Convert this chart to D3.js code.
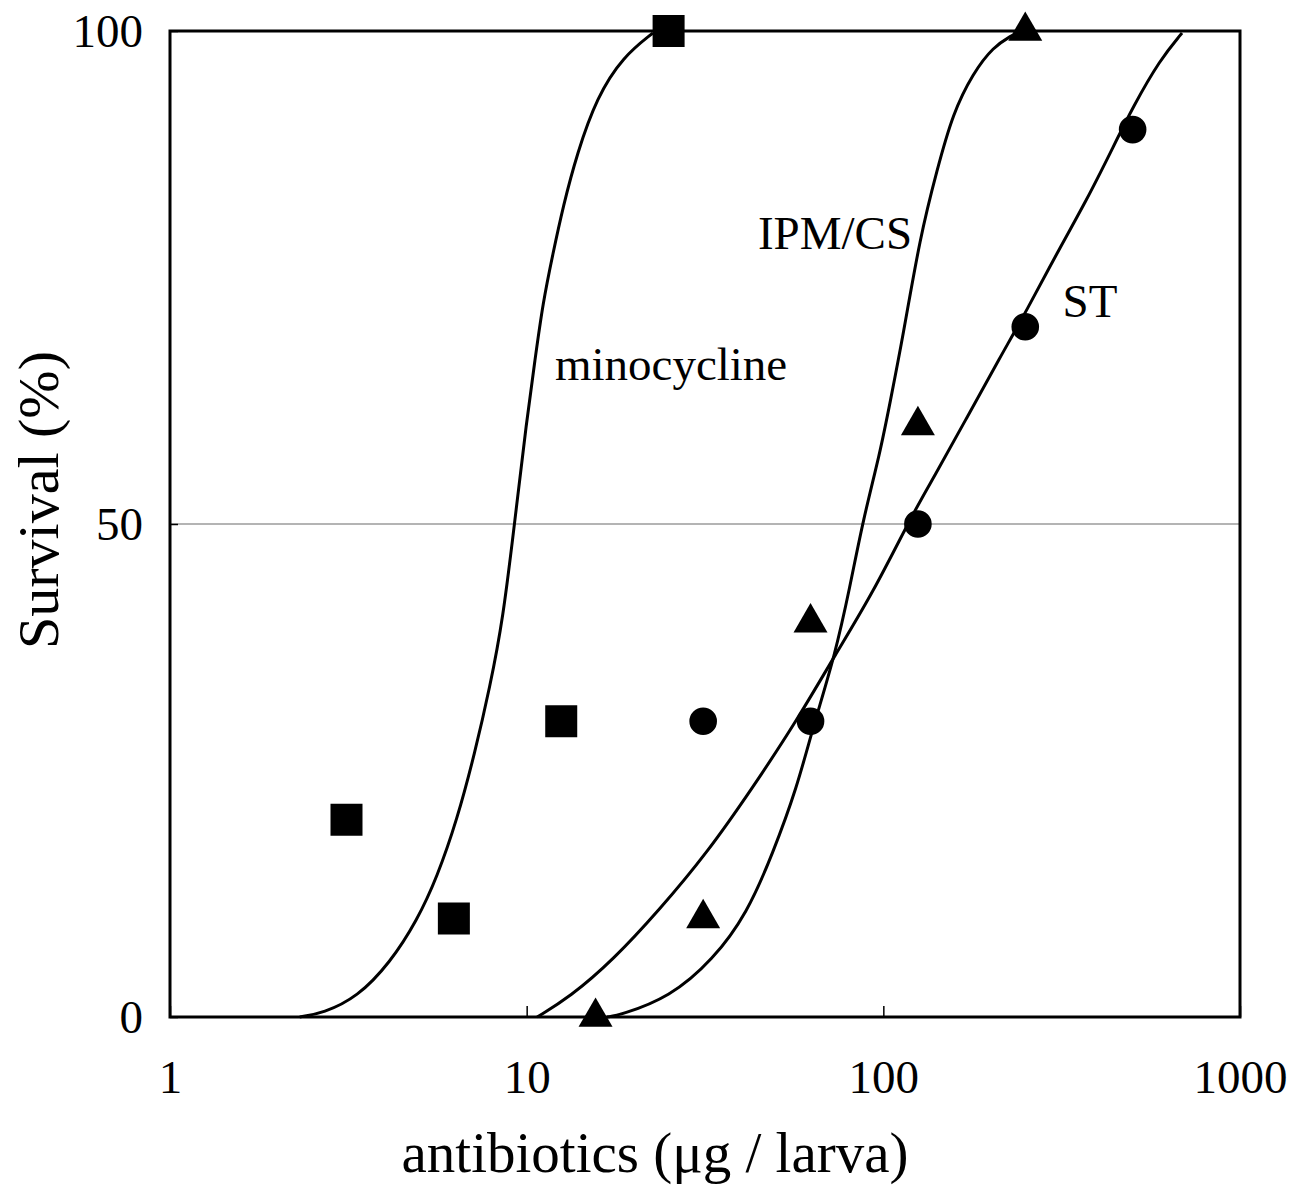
<!DOCTYPE html>
<html>
<head>
<meta charset="utf-8">
<script src="https://cdn.jsdelivr.net/npm/d3@7"></script>
<style>
    body { margin: 0; background: #ffffff; }
    text { font-family: "Liberation Serif", "Times New Roman", serif; fill: #000; }
</style>
</head>
<body>
<div id="canvas"></div>
<script>
"use strict";

/* Observed survival (%) per dose (ug / larva) */
let minoDose = [3.125, 6.25, 12.5, 25];
let minoSurv = [20, 10, 30, 100];

let ipmDose = [15.6, 31.25, 62.5, 125, 250];
let ipmSurv = [0, 10, 40, 60, 100];

let stDose = [31.25, 62.5, 125, 250, 500];
let stSurv = [30, 30, 50, 70, 90];

/* Fitted curves */
let minoFitDose = [2.31, 2.69, 3.35, 4.14, 4.93, 5.61, 6.38, 7.16, 7.89, 8.58, 9.27, 10.0, 10.55, 11.1, 11.86, 12.65, 13.85, 15.74, 18.62, 22.6];
let minoFitSurv = [0, 0.4, 2.0, 5.5, 9.8, 14.2, 20.0, 26.8, 33.5, 40.3, 50.4, 60.5, 66.6, 72.4, 77.5, 82.2, 87.6, 93.3, 97.4, 99.8];

let ipmFitDose = [16.8, 18.3, 25.2, 33.3, 41.5, 49.0, 57.3, 63.5, 73.2, 80.6, 87.7, 97.9, 104.4, 113.5, 126.7, 141.4, 156.8, 178.4, 203, 231];
let ipmFitSurv = [0, 0.2, 2.0, 5.8, 10.5, 16.6, 23.3, 29.4, 36.7, 43.6, 50.4, 57.2, 62.3, 69.0, 79.1, 85.9, 91.7, 95.7, 98.4, 99.6];

let stFitDose = [10.7, 13.2, 17.5, 23.6, 32.0, 43.1, 57.3, 73.2, 93.5, 121.1, 137.9, 171.6, 212.4, 252.8, 306.9, 372.4, 440.5, 501, 596.8, 687.8];
let stFitSurv = [0, 2.0, 5.8, 10.9, 16.6, 23.3, 30.1, 36.7, 43.0, 51.1, 54.6, 60.8, 66.9, 71.7, 77.5, 82.9, 88.2, 92.3, 97.1, 99.8];

/* Axis ticks */
let xTicks = [1, 10, 100, 1000];
let xTickLabels = ["1", "10", "100", "1000"];
let yTicks = [0, 50, 100];
let yTickLabels = ["0", "50", "100"];

/* Curve labels (dose, survival at text start / baseline) */
let seriesNames = ["minocycline", "IPM/CS", "ST"];
let seriesLabelDose = [12.0, 44.5, 318];
let seriesLabelSurv = [64.6, 77.9, 71.0];

/* Layout */
let svgWidth = 1304;
let svgHeight = 1188;
let margin = { top: 31, right: 64, bottom: 171, left: 170 };
let chartWidth = svgWidth - margin.left - margin.right;
let chartHeight = svgHeight - margin.top - margin.bottom;

let svg;
let xScale;
let yScale;

(function() {
    createSVG();
    drawAxes();
    drawCurves();
    drawPoints();
    drawLabels();
})();

function createSVG() {
    svg = d3.select("#canvas")
        .append("svg")
        .attr("width", svgWidth)
        .attr("height", svgHeight);

    svg.append("rect")
        .attr("width", svgWidth)
        .attr("height", svgHeight)
        .attr("fill", "white");

    xScale = d3.scaleLog()
        .domain([1, 1000])
        .range([margin.left, margin.left + chartWidth]);

    yScale = d3.scaleLinear()
        .domain([0, 100])
        .range([margin.top + chartHeight, margin.top]);
}

function drawAxes() {
    // thin reference line at 50 %
    svg.append("line")
        .attr("x1", xScale(1))
        .attr("x2", xScale(1000))
        .attr("y1", yScale(50))
        .attr("y2", yScale(50))
        .attr("stroke", "#6a6a6a")
        .attr("stroke-width", 1.2);

    let xAxis = d3.axisBottom(xScale)
        .tickValues(xTicks)
        .tickFormat(function(d, i) { return xTickLabels[i]; })
        .tickSizeInner(-11)
        .tickSizeOuter(0)
        .tickPadding(43);

    let gx = svg.append("g")
        .attr("transform", "translate(0," + (margin.top + chartHeight) + ")")
        .call(xAxis);

    let yAxis = d3.axisLeft(yScale)
        .tickValues(yTicks)
        .tickFormat(function(d, i) { return yTickLabels[i]; })
        .tickSizeInner(-8)
        .tickSizeOuter(0)
        .tickPadding(27);

    let gy = svg.append("g")
        .attr("transform", "translate(" + margin.left + ",0)")
        .call(yAxis);

    [gx, gy].forEach(function(g) {
        g.select(".domain").remove();
        g.selectAll(".tick line").attr("stroke", "#000").attr("stroke-width", 1.5);
        g.selectAll(".tick text")
            .style("font-family", "'Liberation Serif', serif")
            .style("font-size", "47px")
            .attr("fill", "#000");
    });

    // plot frame
    svg.append("rect")
        .attr("x", margin.left)
        .attr("y", margin.top)
        .attr("width", chartWidth)
        .attr("height", chartHeight)
        .attr("fill", "none")
        .attr("stroke", "#000")
        .attr("stroke-width", 3);

    // axis titles
    svg.append("text")
        .attr("x", margin.left + 485)
        .attr("y", 1172)
        .attr("text-anchor", "middle")
        .style("font-size", "57px")
        .text("antibiotics (\u03bcg / larva)");

    svg.append("text")
        .attr("transform", "translate(58," + 500 + ") rotate(-90)")
        .attr("text-anchor", "middle")
        .style("font-size", "58px")
        .text("Survival (%)");
}

function drawCurves() {
    let line = d3.line()
        .x(function(d) { return xScale(d[0]); })
        .y(function(d) { return yScale(d[1]); })
        .curve(d3.curveBasis);

    let fits = [
        d3.zip(minoFitDose, minoFitSurv),
        d3.zip(ipmFitDose, ipmFitSurv),
        d3.zip(stFitDose, stFitSurv)
    ];

    svg.selectAll("path.fit")
        .data(fits)
        .join("path")
        .classed("fit", true)
        .attr("d", line)
        .attr("fill", "none")
        .attr("stroke", "#000")
        .attr("stroke-width", 3);
}

function drawPoints() {
    let groups = [
        { pts: d3.zip(minoDose, minoSurv), symbol: d3.symbolSquare, size: 1024 },
        { pts: d3.zip(ipmDose, ipmSurv), symbol: d3.symbolTriangle, size: 500 },
        { pts: d3.zip(stDose, stSurv), symbol: d3.symbolCircle, size: 600 }
    ];

    for (let i = 0; i < groups.length; i++) {
        let g = groups[i];
        let shape = d3.symbol().type(g.symbol).size(g.size);
        svg.selectAll("path.pts" + i)
            .data(g.pts)
            .join("path")
            .attr("class", "pts" + i)
            .attr("transform", function(d) {
                return "translate(" + xScale(d[0]) + "," + yScale(d[1]) + ")";
            })
            .attr("d", shape)
            .attr("fill", "#000");
    }
}

function drawLabels() {
    for (let i = 0; i < seriesNames.length; i++) {
        svg.append("text")
            .attr("x", xScale(seriesLabelDose[i]))
            .attr("y", yScale(seriesLabelSurv[i]))
            .style("font-size", "47px")
            .text(seriesNames[i]);
    }
}
</script>
</body>
</html>
